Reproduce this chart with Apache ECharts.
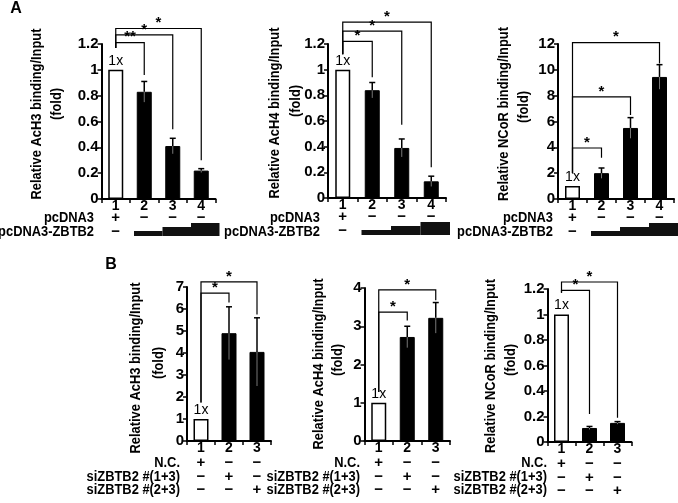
<!DOCTYPE html>
<html>
<head>
<meta charset="utf-8">
<script src="https://cdn.jsdelivr.net/npm/echarts@6/dist/echarts.min.js"></script>
<style>
  html, body { margin: 0; background: #fff; }
  #chart { width: 678px; height: 503px; }
</style>
</head>
<body>
<div id="chart"></div>
<script>
// lanes
var catsA = ['1', '2', '3', '4'];
var catsB = ['1', '2', '3'];

// A: ZBTB2 titration
var ach3A = [1, 0.83, 0.41, 0.22];
var ach3AErr = [0, 0.08, 0.06, 0.015];
var ach4A = [1, 0.84, 0.39, 0.13];
var ach4AErr = [0, 0.06, 0.07, 0.04];
var ncorA = [1, 2.0, 5.5, 9.45];
var ncorAErr = [0, 0.4, 0.8, 0.95];

// B: siRNA knockdown
var ach3B = [1, 4.9, 4.05];
var ach3BErr = [0, 1.2, 1.55];
var ach4B = [1, 2.72, 3.22];
var ach4BErr = [0, 0.28, 0.4];
var ncorB = [1, 0.11, 0.15];
var ncorBErr = [0, 0.012, 0.01];

// significance brackets: [to lane, bracket level, drop to, mark]
var sigAch3A = [[1, 1.21, 0.96, '**'], [2, 1.27, 0.54, '*'], [3, 1.32, 0.30, '*']];
var sigAch4A = [[1, 1.22, 0.94, '*'], [2, 1.30, 0.57, '*'], [3, 1.37, 0.24, '*']];
var sigNcorA = [[1, 3.95, 3.2, '*'], [2, 7.9, 6.5, '*'], [3, 12.1, 10.5, '*']];
var sigAch3B = [[1, 6.72, 6.3, '*'], [2, 7.23, 5.75, '*']];
var sigAch4B = [[1, 3.37, 3.15, '*'], [2, 3.95, 3.68, '*']];
var sigNcorB = [[1, 1.19, 0.22, '*'], [2, 1.255, 0.19, '*']];

// treatment rows under the axes
var pcdna3 = ['+', '\u2212', '\u2212', '\u2212'];
var zbtb2Dose = [0, 1, 2, 3];
var nc = ['+', '\u2212', '\u2212'];
var si13 = ['\u2212', '+', '\u2212'];
var si23 = ['\u2212', '\u2212', '+'];

var FONT = 'Liberation Sans, Arial, sans-serif';
var MINUS = '\u2212';
var SQUEEZE = 0.92; // the figure's lettering is slightly condensed

var chart = echarts.init(document.getElementById('chart'));

var grids = [
  { left: 101.5, top: 44, width: 114, height: 155 },
  { left: 328, top: 44, width: 118, height: 154 },
  { left: 558, top: 44, width: 116, height: 155 },
  { left: 187, top: 287, width: 84, height: 154 },
  { left: 364.5, top: 288, width: 85.5, height: 153 },
  { left: 547.5, top: 289, width: 84, height: 153 }
];

var panels = [
  { cats: catsA, vals: ach3A, err: ach3AErr, sig: sigAch3A, leftEnd: 1.17, max: 1.2, step: 0.2 },
  { cats: catsA, vals: ach4A, err: ach4AErr, sig: sigAch4A, leftEnd: 1.12, max: 1.2, step: 0.2 },
  { cats: catsA, vals: ncorA, err: ncorAErr, sig: sigNcorA, leftEnd: 2.0, max: 12, step: 2 },
  { cats: catsB, vals: ach3B, err: ach3BErr, sig: sigAch3B, leftEnd: 1.75, max: 7, step: 1 },
  { cats: catsB, vals: ach4B, err: ach4BErr, sig: sigAch4B, leftEnd: 1.28, max: 4, step: 1 },
  { cats: catsB, vals: ncorB, err: ncorBErr, sig: sigNcorB, leftEnd: 1.17, max: 1.2, step: 0.2 }
];

function errRenderer(params, api) {
  var x = api.value(0), m = api.value(1), e = api.value(2);
  if (!e) return null;
  var top = api.coord([x, m + e]);
  var mid = api.coord([x, m]);
  var low = api.coord([x, m - e]);
  return {
    type: 'group',
    children: [
      { type: 'line', shape: { x1: mid[0], y1: mid[1], x2: low[0], y2: low[1] }, style: { stroke: '#777', lineWidth: 1 } },
      { type: 'line', shape: { x1: top[0], y1: top[1], x2: mid[0], y2: mid[1] }, style: { stroke: '#000', lineWidth: 1.5 } },
      { type: 'line', shape: { x1: top[0] - 3, y1: top[1], x2: top[0] + 3, y2: top[1] }, style: { stroke: '#000', lineWidth: 1.5 } }
    ]
  };
}

function bracketRenderer(sig, leftEnd) {
  return function (params, api) {
    var s = sig[params.dataIndex];
    var a = api.coord([0, leftEnd]);
    var b = api.coord([0, s[1]]);
    var c = api.coord([s[0], s[1]]);
    var d = api.coord([s[0], s[2]]);
    return {
      type: 'group',
      children: [
        { type: 'polyline', shape: { points: [a, b, c, d] }, style: { stroke: '#000', lineWidth: 1.2, fill: null } },
        { type: 'text', x: (b[0] + c[0]) / 2, y: b[1] + 2,
          style: { text: s[3], font: 'bold 15px ' + FONT, fill: '#000', textAlign: 'center', textVerticalAlign: 'bottom' } }
      ]
    };
  };
}

function markText(x, y, t) {
  return { type: 'text', x: x, y: y,
    style: { text: t, font: 'bold 15px ' + FONT, fill: '#000', textAlign: 'center', textVerticalAlign: 'middle' } };
}

// rows below panel A axes: pcDNA3 marks + dose wedge
function tableARenderer(params, api) {
  var i = api.value(0);
  var p = api.coord([i, 0]);
  var band = api.size([1, 0])[0];
  var kids = [markText(p[0], p[1] + 19, pcdna3[i])];
  var dose = zbtb2Dose[i];
  if (!dose) {
    kids.push(markText(p[0], p[1] + 33, MINUS));
  } else {
    var h = 1 + 4 * dose;
    kids.push({ type: 'rect', shape: { x: p[0] - band / 2 + 4, y: p[1] + 37 - h, width: band, height: h },
      style: { fill: '#111' } });
  }
  return { type: 'group', children: kids };
}

function tableBRenderer(params, api) {
  var i = api.value(0);
  var p = api.coord([i, 0]);
  return { type: 'group', children: [
    markText(p[0], p[1] + 22, nc[i]),
    markText(p[0], p[1] + 36, si13[i]),
    markText(p[0], p[1] + 49, si23[i])
  ] };
}

var xAxes = [], yAxes = [], series = [];
panels.forEach(function (pn, k) {
  xAxes.push({
    type: 'category', gridIndex: k, data: pn.cats,
    axisLine: { lineStyle: { color: '#000', width: 2 } },
    axisTick: { show: true, length: 4, interval: 0, lineStyle: { color: '#000', width: 1.5 } },
    axisLabel: { margin: 0, color: '#000', fontFamily: FONT, fontWeight: 'bold', fontSize: 14 }
  });
  yAxes.push({
    type: 'value', gridIndex: k, min: 0, max: pn.max, interval: pn.step,
    splitLine: { show: false },
    axisLine: { show: true, lineStyle: { color: '#000', width: 2 } },
    axisTick: { show: true, length: 4, lineStyle: { color: '#000', width: 1.5 } },
    axisLabel: { margin: 3, color: '#000', fontFamily: FONT, fontWeight: 'bold', fontSize: 15 }
  });
  series.push({
    type: 'bar', xAxisIndex: k, yAxisIndex: k, barWidth: 15, z: 2,
    data: pn.vals.map(function (v, i) {
      if (i === 0) {
        return {
          value: v,
          itemStyle: { color: '#fff', borderColor: '#000', borderWidth: 1.5 },
          label: { show: true, position: 'top', distance: 2, formatter: '1x', color: '#000',
            fontFamily: FONT, fontSize: 14 }
        };
      }
      return { value: v, itemStyle: { color: '#000', borderColor: '#000', borderWidth: 1 } };
    })
  });
  series.push({
    type: 'custom', xAxisIndex: k, yAxisIndex: k, z: 3,
    renderItem: errRenderer,
    data: pn.vals.map(function (v, i) { return [i, v, pn.err[i]]; })
  });
  series.push({
    type: 'custom', xAxisIndex: k, yAxisIndex: k, z: 4, clip: false,
    renderItem: bracketRenderer(pn.sig, pn.leftEnd),
    encode: { x: 0, y: 1 },
    data: pn.sig.map(function (s) { return [s[0], s[1], s[2]]; })
  });
  series.push({
    type: 'custom', xAxisIndex: k, yAxisIndex: k, z: 4, clip: false,
    renderItem: k < 3 ? tableARenderer : tableBRenderer,
    encode: { x: 0, y: 1 },
    data: pn.cats.map(function (c, i) { return [i, 0]; })
  });
});

function rotText(x, y, t) {
  return { type: 'text', x: x, y: y, rotation: Math.PI / 2, scaleX: SQUEEZE,
    style: { text: t, font: 'bold 14px ' + FONT, fill: '#000', textAlign: 'center', textVerticalAlign: 'middle' } };
}
function rowLabel(x, y, t) {
  return { type: 'text', x: x, y: y, scaleX: SQUEEZE,
    style: { text: t, font: 'bold 14px ' + FONT, fill: '#000', textAlign: 'right', textVerticalAlign: 'middle' } };
}

var graphics = [
  { type: 'text', x: 16, y: 9, style: { text: 'A', font: 'bold 16px ' + FONT, fill: '#000', textAlign: 'center', textVerticalAlign: 'middle' } },
  { type: 'text', x: 111, y: 265, style: { text: 'B', font: 'bold 16px ' + FONT, fill: '#000', textAlign: 'center', textVerticalAlign: 'middle' } },
  rotText(37, 114, 'Relative AcH3 binding/Input'), rotText(57, 104, '(fold)'),
  rotText(275, 113, 'Relative AcH4 binding/Input'), rotText(296, 101, '(fold)'),
  rotText(504, 114, 'Relative NCoR binding/Input'), rotText(524, 107, '(fold)'),
  rotText(136, 368, 'Relative AcH3 binding/Input'), rotText(159, 363, '(fold)'),
  rotText(319, 364, 'Relative AcH4 binding/Input'), rotText(338, 360, '(fold)'),
  rotText(491, 366, 'Relative NCoR binding/Input'), rotText(511, 360, '(fold)')
];
[94, 320, 553].forEach(function (x) {
  graphics.push(rowLabel(x, 218, 'pcDNA3'));
  graphics.push(rowLabel(x, 232, 'pcDNA3-ZBTB2'));
});
[180, 360, 547].forEach(function (x) {
  graphics.push(rowLabel(x, 463, 'N.C.'));
  graphics.push(rowLabel(x, 477, 'siZBTB2 #(1+3)'));
  graphics.push(rowLabel(x, 490, 'siZBTB2 #(2+3)'));
});

chart.setOption({
  animation: false,
  backgroundColor: '#fff',
  grid: grids,
  xAxis: xAxes,
  yAxis: yAxes,
  series: series,
  graphic: graphics
});
</script>
</body>
</html>
